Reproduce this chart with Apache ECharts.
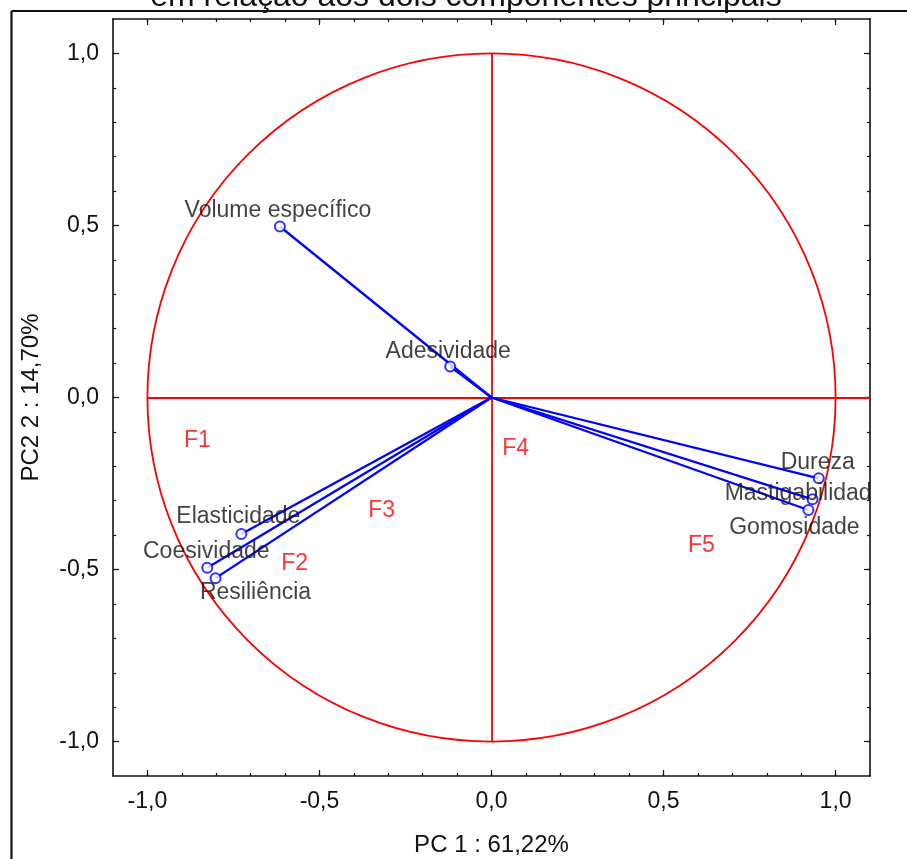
<!DOCTYPE html>
<html><head><meta charset="utf-8">
<script src="https://cdn.jsdelivr.net/npm/echarts@6/dist/echarts.min.js"></script>
<style>html,body{margin:0;padding:0;background:#fff}#c{width:907px;height:859px}</style>
</head><body><div id="c"></div>
<script>
// ---- data ----
const variables = ['Volume específico','Adesividade','Dureza','Mastigabilidade','Gomosidade','Elasticidade','Coesividade','Resiliência'];
const pc1 = [-0.615, -0.120, 0.951, 0.933, 0.921, -0.727, -0.826, -0.802];
const pc2 = [0.497, 0.090, -0.235, -0.296, -0.327, -0.397, -0.495, -0.525];
const groupLabels = ['F1','F2','F3','F4','F5'];
const groupX = [-0.855, -0.572, -0.319, 0.070, 0.610];
const groupY = [-0.124, -0.484, -0.329, -0.150, -0.432];
const majorTicks = [-1.0, -0.5, 0.0, 0.5, 1.0];
const minorTicks = [-1.0,-0.9,-0.8,-0.7,-0.6,-0.5,-0.4,-0.3,-0.2,-0.1,0.0,0.1,0.2,0.3,0.4,0.5,0.6,0.7,0.8,0.9,1.0];
const circleRadius = [1.0];
const crossLines = [[[-1.0, 0.0],[1.1, 0.0]], [[0.0, -1.0],[0.0, 1.0]]];
const axisMin = -1.1, axisMax = 1.1;
const xName = 'PC 1 : 61,22%';
const yName = 'PC2 2 : 14,70%';
const titleText = 'em relação aos dois componentes principais';

// ---- styling ----
const FONT = '"Liberation Sans", Arial, sans-serif';
const INK = '#111';
const BLUE = '#0000ff';
const RED = '#ff0000';
const labelOffsets = {
  'Volume específico':[-2,-16], 'Adesividade':[-2,-15], 'Dureza':[-1,-16],
  'Mastigabilidade':[-8,-6], 'Gomosidade':[-14,18], 'Elasticidade':[-3,-17],
  'Coesividade':[-1,-16], 'Resiliência':[40,15]
};
const fmt = v => v.toFixed(1).replace('.', ',');
const lineSt = {color: INK, width: 1.6};

function mkX(pos, ticks, len, showLine, showLabel, name) {
  return {
    type:'value', position:pos, min:axisMin, max:axisMax,
    axisLine:{show:showLine, onZero:false, lineStyle:lineSt},
    axisTick:{show:true, inside:true, length:len, customValues:ticks, lineStyle:{color:INK, width:1.2}},
    axisLabel:showLabel ? {show:true, customValues:majorTicks, formatter:fmt, margin:14, fontSize:23, color:INK, fontFamily:FONT} : {show:false},
    splitLine:{show:false},
    name: name || '', nameLocation:'middle', nameGap:57,
    nameTextStyle:{fontSize:24, color:INK, fontFamily:FONT}
  };
}
function mkY(pos, ticks, len, showLine, showLabel, name) {
  const a = mkX(pos, ticks, len, showLine, showLabel, name);
  a.nameGap = 70;
  return a;
}

const chart = echarts.init(document.getElementById('c'), null, {renderer:'canvas'});
chart.setOption({
  animation:false,
  backgroundColor:'#fff',
  textStyle:{fontFamily:FONT},
  grid:{left:113, right:37, top:19, bottom:83, containLabel:false, outerBoundsMode:'none'},
  xAxis:[
    mkX('bottom', majorTicks, 6, true, true, xName),
    mkX('top', majorTicks, 6, true, false),
    mkX('bottom', minorTicks, 3, false, false),
    mkX('top', minorTicks, 3, false, false)
  ],
  yAxis:[
    mkY('left', majorTicks, 6, true, true, yName),
    mkY('right', majorTicks, 6, true, false),
    mkY('left', minorTicks, 3, false, false),
    mkY('right', minorTicks, 3, false, false)
  ],
  series:[
    {
      type:'custom', silent:true, clip:false, z:1,
      data: circleRadius.map(r => [0, 0, r]),
      renderItem:(params, api) => {
        const r = api.value(2);
        const c = api.coord([api.value(0), api.value(1)]);
        const ex = api.coord([r, 0]);
        const ey = api.coord([0, r]);
        const rad = ((ex[0]-c[0]) + (c[1]-ey[1])) / 2;
        return {type:'circle', shape:{cx:c[0], cy:c[1], r:rad},
          style:{fill:'none', stroke:RED, lineWidth:1.8}};
      }
    },
    {
      type:'lines', coordinateSystem:'cartesian2d', silent:true, z:2,
      data: crossLines.map(c => ({coords:c})),
      lineStyle:{color:RED, width:1.8, opacity:1}
    },
    {
      type:'lines', coordinateSystem:'cartesian2d', silent:true, z:3,
      data: variables.map((n,i) => ({coords:[[0,0],[pc1[i], pc2[i]]]})),
      lineStyle:{color:BLUE, width:2.3, opacity:1}
    },
    {
      type:'scatter', silent:true, z:4,
      symbol:'emptyCircle', symbolSize:10,
      itemStyle:{color:BLUE, borderColor:BLUE, borderWidth:2},
      data: variables.map((n,i) => ({name:n, value:[pc1[i], pc2[i]], label:{offset:labelOffsets[n]}})),
      label:{show:true, position:'inside', formatter:'{b}', fontSize:23, color:INK, fontFamily:FONT}
    },
    {
      type:'scatter', silent:true, z:4,
      symbol:'circle', symbolSize:1,
      itemStyle:{color:'rgba(0,0,0,0)'},
      data: groupLabels.map((n,i) => ({name:n, value:[groupX[i], groupY[i]]})),
      label:{show:true, position:'inside', formatter:'{b}', fontSize:23, color:RED, fontFamily:FONT}
    }
  ],
  graphic:[
    {type:'rect', z:100, shape:{x:871.6, y:19, width:40, height:840}, style:{fill:'#fff'}},
    {type:'text', z:101, x:466, y:-3, style:{text:titleText, font:'32px ' + FONT, fill:INK, textAlign:'center', textVerticalAlign:'middle'}},
    {type:'line', z:102, shape:{x1:11.5, y1:11, x2:907, y2:11}, style:{stroke:INK, lineWidth:2.2}},
    {type:'line', z:102, shape:{x1:11.5, y1:11, x2:11.5, y2:859}, style:{stroke:INK, lineWidth:2.2}}
  ]
});
</script></body></html>
